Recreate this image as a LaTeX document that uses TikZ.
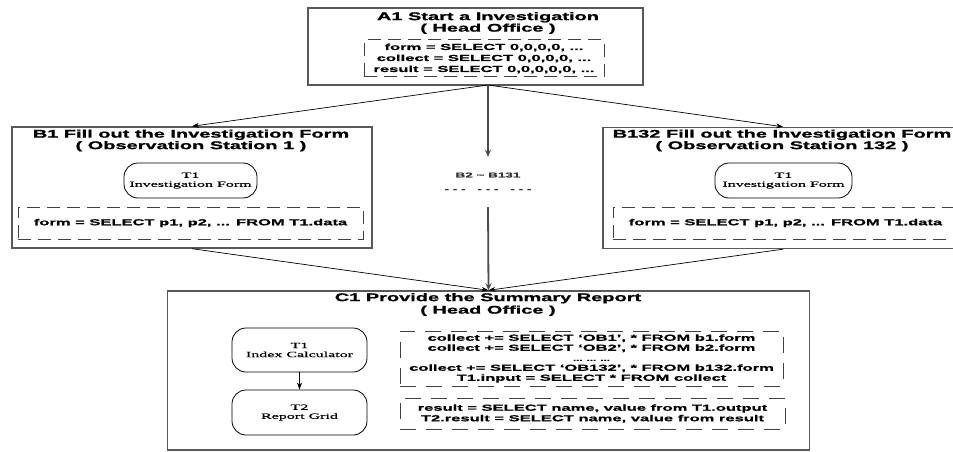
\documentclass[tikz,border=0pt]{standalone}
\usepackage{fontspec}
\setmainfont{Liberation Serif}
% wide heavy sans for headings and SQL, wide serif for table names
\newfontfamily\headfont[FakeStretch=1.8,FakeBold=1.2]{Liberation Sans Bold}
\newfontfamily\codefont[FakeStretch=1.9,FakeBold=0.8]{Liberation Sans Bold}
\newfontfamily\tablefont[FakeStretch=2.0,FakeBold=0.6]{Liberation Serif}
\usetikzlibrary{arrows.meta}

\begin{document}
\begin{tikzpicture}[x=1pt,y=-1pt,
  panel/.style={draw=black!65, line width=1.4pt, inner sep=0pt},
  codebox/.style={draw=black!75, line width=1pt, dash pattern=on 13pt off 7pt,
    inner sep=0pt, align=center, font=\codefont\fontsize{8.7}{10.5}\selectfont},
  longcode/.style={codebox, dash pattern=on 16pt off 10pt},
  tablebox/.style={draw=black, line width=0.8pt, rounded corners=14pt, inner sep=0pt,
    align=center, font=\tablefont\fontsize{8}{9}\selectfont},
  heading/.style={align=center, inner sep=0pt, font=\headfont\fontsize{11.1}{11.5}\selectfont},
  link/.style={draw=black, line width=0.7pt, -{Stealth[length=7pt,width=5pt]}},
  trunk/.style={draw=black!70, line width=1.8pt, -{Stealth[length=7pt,width=6pt]}}]

\fill[white] (0,0) rectangle (953,452);
\useasboundingbox (0,0) rectangle (953,452);

% A1: head office starts the investigation
\node[panel, minimum width=335pt, minimum height=77pt] (A1) at (475.5,46.5) {};
\node[heading] (A1title) at (488,23) {A1 Start a Investigation\\( Head Office )};
\node[codebox, minimum width=240pt, minimum height=37pt,
  font=\codefont\fontsize{8.7}{11}\selectfont] (A1code) at (484,58.5)
  {form = SELECT 0,0,0,0, ...\\collect = SELECT 0,0,0,0, ...\\result = SELECT 0,0,0,0,0, ...};
\coordinate (A1out) at (488,85);

% B1: first observation station
\node[panel, minimum width=360pt, minimum height=121pt] (B1) at (192,187.5) {};
\node[heading] (B1title) at (191,140.5) {B1 Fill out the Investigation Form\\( Observation Station 1 )};
\node[tablebox, minimum width=133pt, minimum height=35pt] (B1t) at (190.5,180.5) {T1\\Investigation Form};
\node[codebox, minimum width=345pt, minimum height=32pt] (B1code) at (190.5,223)
  {form = SELECT p1, p2, ... FROM T1.data};

% B132: last observation station
\node[panel, minimum width=360pt, minimum height=121pt] (B132) at (783,188) {};
\node[heading] (B132title) at (782,140.5) {B132 Fill out the Investigation Form\\( Observation Station 132 )};
\node[tablebox, minimum width=137pt, minimum height=35pt] (B132t) at (783.5,180.5) {T1\\Investigation Form};
\node[codebox, minimum width=345pt, minimum height=32pt] (B132code) at (785.5,223)
  {form = SELECT p1, p2, ... FROM T1.data};

% the stations in between
\node[inner sep=0pt, minimum height=50pt, align=center, text=black!80,
  font=\codefont\fontsize{7.1}{14}\selectfont] (mid) at (488,182)
  {B2 \textasciitilde{} B131\\- - -\hspace{12pt}- - -\hspace{12pt}- - -};

% C1: summary report at head office
\node[panel, minimum width=642pt, minimum height=159pt] (C1) at (488.5,370.5) {};
\node[heading, font=\headfont\fontsize{11.1}{12.5}\selectfont] (C1title) at (488,304.5)
  {C1 Provide the Summary Report\\( Head Office )};
\node[tablebox, minimum width=135pt, minimum height=44pt] (C1t1) at (299.5,350) {T1\\Index Calculator};
\node[tablebox, minimum width=135pt, minimum height=45pt] (C1t2) at (299.5,412.5) {T2\\Report Grid};
\node[longcode, minimum width=383pt, minimum height=55pt,
  font=\codefont\fontsize{8.7}{10}\selectfont] (C1code1) at (591.5,358.5)
  {collect += SELECT ‘OB1’, * FROM b1.form\\
   collect += SELECT ‘OB2’, * FROM b2.form\\
   {\fontsize{6}{10}\selectfont ... ... ...}\\
   collect += SELECT ‘OB132’, * FROM b132.form\\
   T1.input = SELECT * FROM collect};
\node[longcode, minimum width=385pt, minimum height=31pt] (C1code2) at (592.5,413.5)
  {result = SELECT name, value from T1.output\\T2.result = SELECT name, value from result};

% connectors
\draw[link] (A1out) -- (B1.north);
\draw[link] (A1out) -- (B132.north);
\draw[trunk] (A1out) -- (mid.north);
\draw[trunk] (mid.south) -- (C1.north);
\draw[link] (B1.south) -- (C1.north);
\draw[link] (B132.south) -- (C1.north);
\draw[link, line width=1.2pt] (C1t1) -- (C1t2);
\end{tikzpicture}
\end{document}
